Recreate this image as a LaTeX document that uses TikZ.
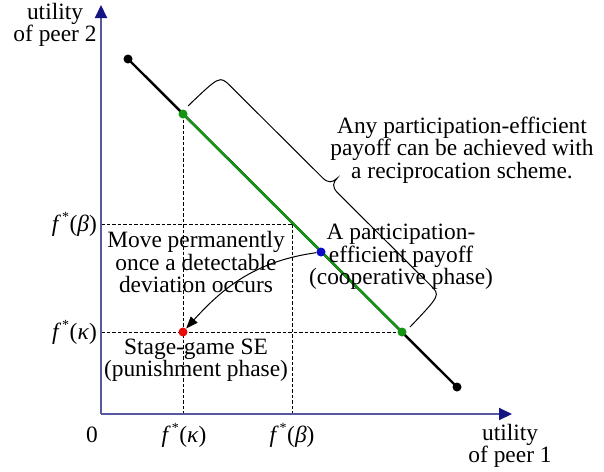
\documentclass[tikz,border=0pt]{standalone}
\usepackage{fontspec}
\setmainfont{Liberation Serif}
\usetikzlibrary{arrows.meta}
\definecolor{axisline}{RGB}{88,88,158}
\definecolor{axisarrow}{RGB}{20,20,130}
\definecolor{effgreen}{RGB}{20,150,20}
\definecolor{bluept}{RGB}{10,10,200}
\definecolor{redpt}{RGB}{235,10,10}
\newcommand{\fstarlbl}[1]{\textit{f}\kern1pt\raisebox{0.42em}{\fontsize{14}{14}\selectfont *}\kern0.5pt(\textit{#1})}
\begin{document}
\begin{tikzpicture}[x=1pt,y=-1pt,
  txt/.style={font=\fontsize{23.4}{22.5}\selectfont, inner sep=0pt, align=center},
  dotpt/.style={circle, inner sep=0pt, minimum size=9pt, draw=none},
  axisln/.style={draw=axisline, line width=2pt, -{Triangle[length=13pt,width=12pt,color=axisarrow]}},
  guide/.style={draw=black, line width=0.9pt, dash pattern=on 3.5pt off 2pt},
  frontier/.style={line width=2.4pt},
  bracepath/.style={draw=black, line width=1pt},
  movearrow/.style={draw=black, line width=1pt, -{Triangle[length=12pt,width=9pt]}}
]
\useasboundingbox (0,0) rectangle (604,471);

% coordinates
\coordinate (orig) at (101,414);
\coordinate (ytip) at (101,5);
\coordinate (xtip) at (512,414);
\coordinate (pb1) at (128,59);
\coordinate (pg1) at (183,114);
\coordinate (pbl) at (321,252);
\coordinate (pg2) at (402,332);
\coordinate (pb2) at (457,387);
\coordinate (pbeta) at (292,224);
\coordinate (pred) at (183,332);

% guide lines
\draw[guide] (pg1) -- (pg1 |- orig);
\draw[guide] (pbeta) -- (pbeta |- orig);
\draw[guide] (orig |- pbeta) -- (pbeta);
\draw[guide] (orig |- pg2) -- (pg2);

% axes
\draw[axisln] (orig) -- (ytip);
\draw[axisln] (orig) -- (xtip);

% frontier
\draw[frontier, black] (pb1) -- (pb2);
\draw[frontier, effgreen] (pg1) -- (pg2);

% dots
\node[dotpt, fill=black] (b1) at (pb1) {};
\node[dotpt, fill=black] (b2) at (pb2) {};
\node[dotpt, fill=effgreen] (g1) at (pg1) {};
\node[dotpt, fill=effgreen] (g2) at (pg2) {};
\node[dotpt, fill=bluept] (bl) at (pbl) {};
\node[dotpt, fill=redpt] (rd) at (pred) {};

% brace
\begin{scope}[shift={(188,106)}, x={(0.7093pt,-0.7061pt)}, y={(0.7061pt,0.7093pt)}]
\draw[bracepath] (0,0) .. controls (1,44) and (1,44) .. (16,44)
  -- (146,44) .. controls (154,44) and (156.5,48) .. (156.5,54)
  .. controls (156.5,48) and (159,44) .. (167,44)
  -- (298,44) .. controls (312,44) and (312,44) .. (313,0);
\end{scope}

% arrow
\draw[movearrow] (bl) to[out=188,in=48] (rd);

% labels
\node[txt] (ylab) at (55,25) {utility\\of peer 2};
\node[txt] (xlab) at (510,446) {utility\\of peer 1};
\node[txt] (zero) at (92,435) {0};
\node[txt] (xk) at (184,435) {\fstarlbl{κ}};
\node[txt] (xb) at (292,435) {\fstarlbl{β}};
\node[txt, anchor=east] (yb) at (97,224) {\fstarlbl{β}};
\node[txt, anchor=east] (yk) at (97,332) {\fstarlbl{κ}};
\node[txt] (anyp) at (462,150) {Any participation-efficient\\payoff can be achieved with\\a reciprocation scheme.};
\node[txt] (coop) at (401,257) {A participation-\\efficient payoff\\(cooperative phase)};
\node[txt] (move) at (196,262) {Move permanently\\once a detectable\\deviation occurs};
\node[txt] (stage) at (196,360) {Stage-game SE\\(punishment phase)};
\end{tikzpicture}
\end{document}
